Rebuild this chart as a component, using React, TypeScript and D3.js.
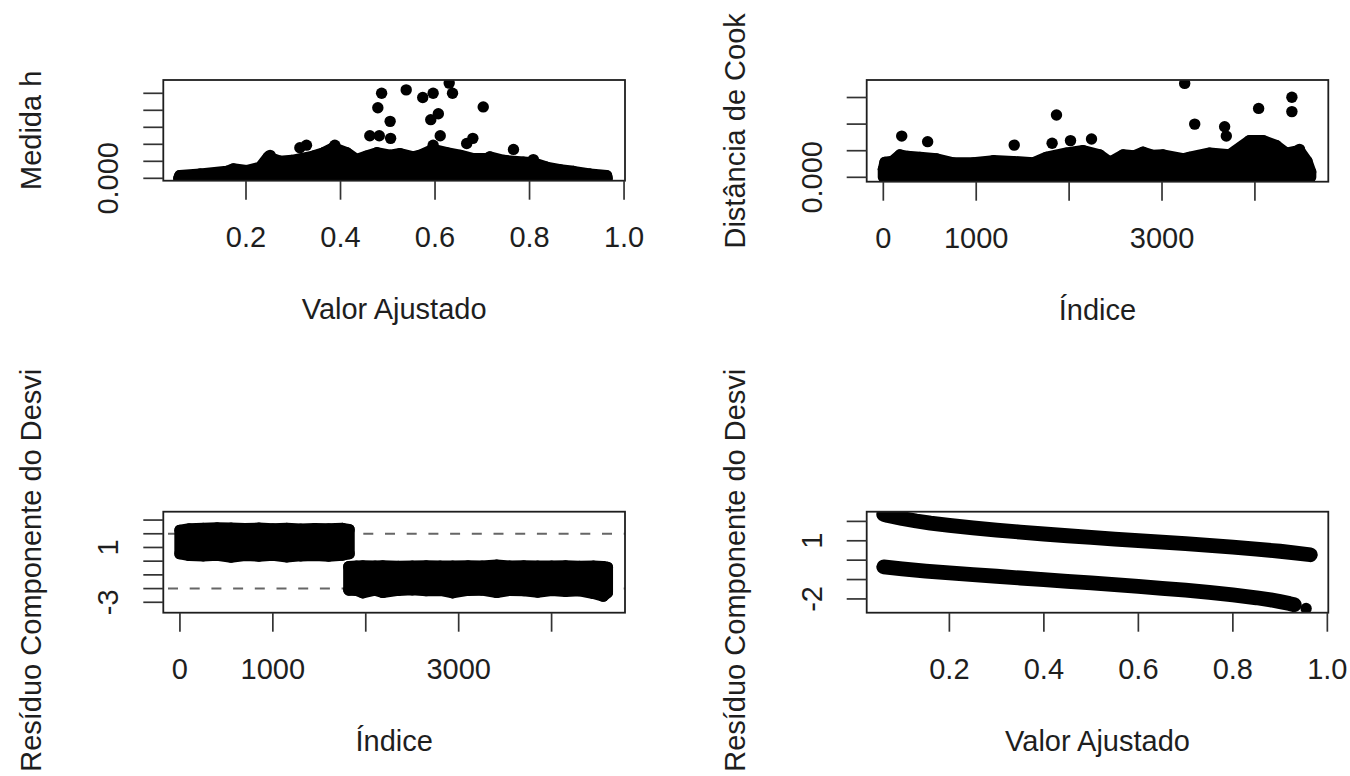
import React from "react";
import * as d3 from "d3";

// ---------- values ----------

// top left: Medida h vs Valor Ajustado (upper edge of the dense cloud + isolated points)
const levEnvFit = [0.058, 0.06, 0.103, 0.159, 0.173, 0.201, 0.23, 0.247, 0.272, 0.297, 0.342, 0.364, 0.385, 0.413, 0.434, 0.455, 0.477, 0.505, 0.526, 0.554, 0.568, 0.596, 0.625, 0.653, 0.681, 0.709, 0.716, 0.745, 0.787, 0.808, 0.836, 0.865, 0.893, 0.928, 0.963, 0.964];
const levEnvH = [0.0, 0.0003, 0.0005, 0.0008, 0.0011, 0.0009, 0.0013, 0.0025, 0.002, 0.0021, 0.0026, 0.003, 0.0036, 0.003, 0.0022, 0.0026, 0.003, 0.0027, 0.0029, 0.0025, 0.0027, 0.0034, 0.003, 0.0027, 0.0023, 0.0023, 0.0025, 0.0021, 0.0019, 0.0018, 0.0013, 0.001, 0.0008, 0.0005, 0.0003, 0.0];
const levOutFit = [0.487, 0.479, 0.505, 0.462, 0.482, 0.506, 0.539, 0.574, 0.596, 0.63, 0.637, 0.591, 0.607, 0.611, 0.596, 0.702, 0.68, 0.667, 0.314, 0.328, 0.388, 0.251, 0.766, 0.808];
const levOutH = [0.01, 0.0083, 0.0067, 0.005, 0.005, 0.0047, 0.0104, 0.0095, 0.01, 0.0112, 0.01, 0.0069, 0.0076, 0.005, 0.0039, 0.0084, 0.0047, 0.0041, 0.0036, 0.0039, 0.0039, 0.0027, 0.0034, 0.0022];
const levTicks = [0, 0.002, 0.004, 0.006, 0.008, 0.01];

// top right: Distância de Cook vs Índice
const cookEnvIdx = [1, 18, 100, 179, 260, 394, 574, 753, 968, 1183, 1398, 1613, 1757, 1972, 2151, 2330, 2438, 2581, 2700, 2796, 2900, 3011, 3226, 3298, 3513, 3728, 3943, 4086, 4230, 4337, 4480, 4560, 4600];
const cookEnvD = [0.0003, 0.00056, 0.0006, 0.00084, 0.00078, 0.00075, 0.00069, 0.00054, 0.00054, 0.00062, 0.00059, 0.00054, 0.00075, 0.00091, 0.001, 0.00084, 0.00056, 0.00084, 0.0008, 0.00094, 0.00082, 0.00084, 0.00069, 0.00075, 0.00091, 0.00084, 0.00138, 0.00138, 0.00119, 0.0009, 0.001, 0.0006, 0.0002];
const cookOutIdx = [198, 477, 1409, 1864, 1817, 2015, 2241, 3244, 3352, 3674, 3692, 4040, 4398, 4398, 4480];
const cookOutD = [0.00155, 0.00134, 0.00121, 0.00234, 0.00128, 0.00138, 0.00144, 0.00353, 0.002, 0.0019, 0.00155, 0.00259, 0.00301, 0.00247, 0.00105];
const cookTicks = [0, 0.001, 0.002, 0.003];

// index axis shared by the two index plots
const idxTicks = [0, 1000, 2000, 3000, 4000];
const idxLabels = [0, 1000, 3000];
const fitTicks = [0.2, 0.4, 0.6, 0.8, 1.0];

// bottom left: deviance residual vs index (two blocks, top and bottom edges)
const resUpIdx = [1, 100, 250, 400, 550, 700, 850, 1000, 1150, 1300, 1450, 1600, 1750, 1820];
const resUpTop = [2.25, 2.35, 2.38, 2.42, 2.4, 2.37, 2.4, 2.36, 2.38, 2.33, 2.37, 2.35, 2.38, 2.3];
const resUpBot = [0.55, 0.42, 0.4, 0.44, 0.3, 0.42, 0.38, 0.44, 0.32, 0.4, 0.42, 0.38, 0.45, 0.55];
const resLoIdx = [1818, 1900, 1968, 2100, 2183, 2350, 2500, 2650, 2800, 2935, 3100, 3250, 3409, 3550, 3700, 3850, 4000, 4150, 4300, 4450, 4555, 4600];
const resLoTop = [-0.4, -0.36, -0.35, -0.37, -0.34, -0.38, -0.36, -0.35, -0.37, -0.36, -0.34, -0.37, -0.3, -0.36, -0.35, -0.37, -0.36, -0.35, -0.38, -0.36, -0.4, -0.45];
const resLoBot = [-2.1, -2.12, -2.3, -2.1, -2.28, -2.12, -2.08, -2.15, -2.12, -2.3, -2.12, -2.1, -2.28, -2.12, -2.15, -2.25, -2.12, -2.2, -2.15, -2.35, -2.55, -2.3];
const res3Ticks = [-3, -2, -1, 0, 1, 2, 3];
const res3Labels = [1, -3];
const refLines = [-2, 2];

// bottom right: deviance residual vs fitted value
const upFit = [0.061, 0.07, 0.08, 0.1, 0.13, 0.16, 0.2, 0.25, 0.3, 0.35, 0.4, 0.45, 0.5, 0.55, 0.6, 0.65, 0.7, 0.75, 0.8, 0.85, 0.9, 0.93, 0.964];
const upRes = [2.36, 2.3, 2.25, 2.15, 2.02, 1.91, 1.79, 1.66, 1.55, 1.45, 1.35, 1.26, 1.18, 1.09, 1.01, 0.93, 0.85, 0.76, 0.67, 0.57, 0.46, 0.38, 0.28];
const loFit = [0.061, 0.1, 0.15, 0.2, 0.25, 0.3, 0.35, 0.4, 0.45, 0.5, 0.55, 0.6, 0.65, 0.7, 0.75, 0.8, 0.85, 0.88, 0.9, 0.92, 0.93];
const loRes = [-0.35, -0.45, -0.56, -0.65, -0.75, -0.83, -0.92, -1.0, -1.09, -1.17, -1.26, -1.35, -1.45, -1.55, -1.66, -1.79, -1.94, -2.05, -2.14, -2.24, -2.3];
const loLastFit = [0.955];
const loLastRes = [-2.49];
const res4Ticks = [-2, -1, 0, 1, 2];
const res4Labels = [1, -2];

// ---------- drawing ----------
const FONT = "'Liberation Sans', Arial, Helvetica, sans-serif";
const INK = "#1e1e1e";
const PT_R = 5.7;

type Box = { x0: number; x1: number; y0: number; y1: number };

function Panel(props: any) {
  const { id, box, x, y, xTicks, xLabels, xFmt, yTicks, yLabels, yFmt, xTitle, yTitle, titleClip, children } = props;
  const cy = (box.y0 + box.y1) / 2;
  const cx = (box.x0 + box.x1) / 2;
  return (
    <g fontFamily={FONT} fontSize={29} fill={INK}>
      <defs>
        <clipPath id={"plot-" + id}>
          <rect x={box.x0} y={box.y0} width={box.x1 - box.x0} height={box.y1 - box.y0} />
        </clipPath>
        <clipPath id={"ttl-" + id}>
          <rect x={box.x0 - 170} y={titleClip} width={170} height={776 - titleClip} />
        </clipPath>
      </defs>
      <g clipPath={"url(#plot-" + id + ")"}>{children}</g>
      <rect x={box.x0} y={box.y0} width={box.x1 - box.x0} height={box.y1 - box.y0} fill="none" stroke={INK} strokeWidth={1.8} />
      {xTicks.map((t: number) => (
        <line key={"xt" + t} x1={x(t)} x2={x(t)} y1={box.y1} y2={box.y1 + 19} stroke="#333" strokeWidth={1.7} />
      ))}
      {yTicks.map((t: number) => (
        <line key={"yt" + t} x1={box.x0 - 20} x2={box.x0} y1={y(t)} y2={y(t)} stroke="#333" strokeWidth={1.7} />
      ))}
      {xLabels.map((t: number) => (
        <text key={"xl" + t} x={x(t)} y={box.y1 + 66} textAnchor="middle">{xFmt(t)}</text>
      ))}
      {yLabels.map((t: number) => (
        <text key={"yl" + t} transform={`translate(${box.x0 - 45},${y(t)}) rotate(-90)`} textAnchor="middle">{yFmt(t)}</text>
      ))}
      <text x={cx} y={box.y1 + 138} textAnchor="middle">{xTitle}</text>
      <g clipPath={"url(#ttl-" + id + ")"}>
        <text transform={`translate(${box.x0 - 122},${cy}) rotate(-90)`} textAnchor="middle">{yTitle}</text>
      </g>
    </g>
  );
}

export default function App() {
  const b1: Box = { x0: 163.3, x1: 625, y0: 80, y1: 180.7 };
  const b2: Box = { x0: 866.7, x1: 1328.3, y0: 80, y1: 181.7 };
  const b3: Box = { x0: 163.3, x1: 625, y0: 511.7, y1: 612.7 };
  const b4: Box = { x0: 866.7, x1: 1328.3, y0: 511.7, y1: 612.7 };

  const x1 = d3.scaleLinear().domain([0.025, 1.002]).range([b1.x0, b1.x1]);
  const y1 = d3.scaleLinear().domain([-0.00028, 0.011565]).range([b1.y1, b1.y0]);
  const x2 = d3.scaleLinear().domain([-179, 4790]).range([b2.x0, b2.x1]);
  const y2 = d3.scaleLinear().domain([-0.000165, 0.003658]).range([b2.y1, b2.y0]);
  const x3 = d3.scaleLinear().domain([-179, 4790]).range([b3.x0, b3.x1]);
  const y3 = d3.scaleLinear().domain([-3.76, 3.61]).range([b3.y1, b3.y0]);
  const x4 = d3.scaleLinear().domain([0.025, 1.002]).range([b4.x0, b4.x1]);
  const y4 = d3.scaleLinear().domain([-2.71, 2.5]).range([b4.y1, b4.y0]);

  const fmt1 = d3.format(".1f");
  const fmtIdx = (v: number) => String(v);
  const fmt3 = d3.format(".3f");
  const fmtInt = (v: number) => String(v);

  // dense clouds: area under the upper edge, widened by a point radius
  const levEnv = levEnvFit.map((f, i) => ({ a: f, b: levEnvH[i] }));
  const levArea = d3.area<any>().x((d) => x1(d.a)).y0(y1(0)).y1((d) => y1(d.b))(levEnv) || "";
  const cookEnv = cookEnvIdx.map((k, i) => ({ a: k, b: cookEnvD[i] }));
  const cookArea = d3.area<any>().x((d) => x2(d.a)).y0(y2(0)).y1((d) => y2(d.b))(cookEnv) || "";

  const upBlock = resUpIdx.map((k, i) => ({ k, t: resUpTop[i], b: resUpBot[i] }));
  const loBlock = resLoIdx.map((k, i) => ({ k, t: resLoTop[i], b: resLoBot[i] }));
  const blockArea = d3.area<any>().x((d) => x3(d.k)).y0((d) => y3(d.b)).y1((d) => y3(d.t));

  const band = d3.line<any>().x((d) => x4(d.f)).y((d) => y4(d.r));
  const upPts = upFit.map((f, i) => ({ f, r: upRes[i] }));
  const loPts = loFit.map((f, i) => ({ f, r: loRes[i] }));
  const loLast = loLastFit.map((f, i) => ({ f, r: loLastRes[i] }));

  const blob = { fill: "#000", stroke: "#000", strokeWidth: PT_R * 2, strokeLinejoin: "round" as const, strokeLinecap: "round" as const };

  return (
    <svg width={1350} height={776} style={{ position: "absolute", left: 0, top: 0, background: "#fff" }}>
      <Panel id="p1" box={b1} x={x1} y={y1} xTicks={fitTicks} xLabels={fitTicks} xFmt={fmt1}
        yTicks={levTicks} yLabels={[0]} yFmt={fmt3} xTitle="Valor Ajustado" yTitle="Medida h" titleClip={0}>
        <path d={levArea} {...blob} />
        {levEnv.map((d, i) => <circle key={"e" + i} cx={x1(d.a)} cy={y1(d.b)} r={PT_R} fill="#000" />)}
        {levOutFit.map((f, i) => <circle key={"o" + i} cx={x1(f)} cy={y1(levOutH[i])} r={PT_R} fill="#000" />)}
      </Panel>

      <Panel id="p2" box={b2} x={x2} y={y2} xTicks={idxTicks} xLabels={idxLabels} xFmt={fmtIdx}
        yTicks={cookTicks} yLabels={[0]} yFmt={fmt3} xTitle="Índice" yTitle="Distância de Cook" titleClip={0}>
        <path d={cookArea} {...blob} />
        {cookEnv.map((d, i) => <circle key={"e" + i} cx={x2(d.a)} cy={y2(d.b)} r={PT_R} fill="#000" />)}
        {cookOutIdx.map((k, i) => <circle key={"o" + i} cx={x2(k)} cy={y2(cookOutD[i])} r={PT_R} fill="#000" />)}
      </Panel>

      <Panel id="p3" box={b3} x={x3} y={y3} xTicks={idxTicks} xLabels={idxLabels} xFmt={fmtIdx}
        yTicks={res3Ticks} yLabels={res3Labels} yFmt={fmtInt} xTitle="Índice" yTitle="Resíduo Componente do Desvio" titleClip={368}>
        {refLines.map((v) => (
          <line key={"r" + v} x1={b3.x0} x2={b3.x1} y1={y3(v)} y2={y3(v)} stroke="#666" strokeWidth={2} strokeDasharray="10,11.7" strokeDashoffset={17} />
        ))}
        <path d={blockArea(upBlock) || ""} {...blob} />
        <path d={blockArea(loBlock) || ""} {...blob} />
        {upBlock.map((d, i) => <circle key={"ut" + i} cx={x3(d.k)} cy={y3(d.t)} r={PT_R} fill="#000" />)}
        {upBlock.map((d, i) => <circle key={"ub" + i} cx={x3(d.k)} cy={y3(d.b)} r={PT_R} fill="#000" />)}
        {loBlock.map((d, i) => <circle key={"lt" + i} cx={x3(d.k)} cy={y3(d.t)} r={PT_R} fill="#000" />)}
        {loBlock.map((d, i) => <circle key={"lb" + i} cx={x3(d.k)} cy={y3(d.b)} r={PT_R} fill="#000" />)}
      </Panel>

      <Panel id="p4" box={b4} x={x4} y={y4} xTicks={fitTicks} xLabels={fitTicks} xFmt={fmt1}
        yTicks={res4Ticks} yLabels={res4Labels} yFmt={fmtInt} xTitle="Valor Ajustado" yTitle="Resíduo Componente do Desvio" titleClip={368}>
        <path d={band(upPts) || ""} fill="none" stroke="#000" strokeWidth={PT_R * 2.6} strokeLinecap="round" strokeLinejoin="round" />
        <path d={band(loPts) || ""} fill="none" stroke="#000" strokeWidth={PT_R * 2.6} strokeLinecap="round" strokeLinejoin="round" />
        {[...upPts, ...loPts, ...loLast].map((d, i) => (
          <circle key={"p" + i} cx={x4(d.f)} cy={y4(d.r)} r={PT_R} fill="#000" />
        ))}
      </Panel>
    </svg>
  );
}
